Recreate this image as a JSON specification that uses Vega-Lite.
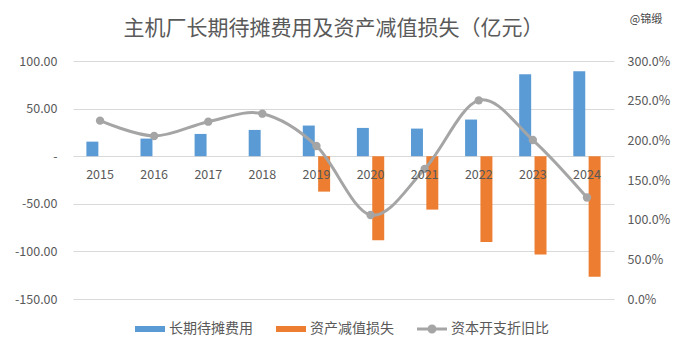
{
  "$schema": "https://vega.github.io/schema/vega-lite/v6.json",
  "width": 541,
  "height": 238,
  "autosize": {"type": "none"},
  "padding": {"left": 73, "top": 61, "right": 67, "bottom": 54},
  "background": "white",
  "title": {
    "text": "主机厂长期待摊费用及资产减值损失（亿元）",
    "fontSize": 21,
    "font": "Noto Sans CJK SC",
    "fontWeight": "normal",
    "color": "#595959",
    "anchor": "middle",
    "offset": -25,
    "dx": -10
  },
  "config": {
    "font": "Noto Sans CJK SC",
    "view": {"stroke": null},
    "axis": {"labelFont": "Noto Sans CJK SC", "labelColor": "#595959", "labelFontSize": 12.5}
  },
  "datasets": {
    "bars": [
      {"year": "2015", "series": "长期待摊费用", "value": 15.3},
      {"year": "2016", "series": "长期待摊费用", "value": 18.5},
      {"year": "2017", "series": "长期待摊费用", "value": 23.4},
      {"year": "2018", "series": "长期待摊费用", "value": 27.6},
      {"year": "2019", "series": "长期待摊费用", "value": 32.2},
      {"year": "2020", "series": "长期待摊费用", "value": 29.7},
      {"year": "2021", "series": "长期待摊费用", "value": 29.0},
      {"year": "2022", "series": "长期待摊费用", "value": 38.5},
      {"year": "2023", "series": "长期待摊费用", "value": 86.1},
      {"year": "2024", "series": "长期待摊费用", "value": 89.3},
      {"year": "2019", "series": "资产减值损失", "value": -37.2},
      {"year": "2020", "series": "资产减值损失", "value": -88.3},
      {"year": "2021", "series": "资产减值损失", "value": -56.1},
      {"year": "2022", "series": "资产减值损失", "value": -90.0},
      {"year": "2023", "series": "资产减值损失", "value": -103.3},
      {"year": "2024", "series": "资产减值损失", "value": -126.5}
    ],
    "ratio": [
      {"year": "2015", "ratio": 2.248},
      {"year": "2016", "ratio": 2.055},
      {"year": "2017", "ratio": 2.235},
      {"year": "2018", "ratio": 2.336},
      {"year": "2019", "ratio": 1.929},
      {"year": "2020", "ratio": 1.059},
      {"year": "2021", "ratio": 1.64},
      {"year": "2022", "ratio": 2.504},
      {"year": "2023", "ratio": 2.004},
      {"year": "2024", "ratio": 1.28}
    ],
    "mark": [{"t": "@锦缎"}]
  },
  "layer": [
    {
      "layer": [
        {
          "data": {"name": "bars"},
          "mark": {"type": "bar"},
          "encoding": {
            "x": {
              "field": "year",
              "type": "nominal",
              "scale": {"paddingInner": 0.495, "paddingOuter": 0.2475},
              "axis": {
                "orient": "bottom",
                "offset": -143,
                "labelAngle": 0,
                "domain": false,
                "ticks": false,
                "grid": false,
                "labelPadding": 12,
                "title": null,
                "zindex": 1
              }
            },
            "xOffset": {
              "field": "series",
              "scale": {"domain": ["长期待摊费用", "资产减值损失"], "paddingInner": 0.22, "paddingOuter": 0}
            },
            "y": {
              "field": "value",
              "type": "quantitative",
              "scale": {"domain": [-150, 100], "nice": false},
              "axis": {
                "values": [-150, -100, -50, 0, 50, 100],
                "labelExpr": "datum.value === 0 ? '-\u00a0\u00a0\u00a0' : replace(format(datum.value, '.2f'), '\u2212', '-')",
                "grid": true,
                "gridColor": "#D9D9D9",
                "domain": false,
                "ticks": false,
                "labelPadding": 16,
                "title": null
              }
            },
            "color": {
              "field": "series",
              "type": "nominal",
              "scale": {
                "domain": ["长期待摊费用", "资产减值损失", "资本开支折旧比"],
                "range": ["#5B9BD5", "#ED7D31", "#A5A5A5"]
              },
              "legend": {
                "orient": "none",
                "legendX": 62,
                "legendY": 253,
                "direction": "horizontal",
                "title": null,
                "symbolSize": 900,
                "labelFontSize": 14,
                "labelColor": "#595959",
                "labelFont": "Noto Sans CJK SC",
                "columnPadding": 23,
                "labelOffset": 4,
                "encode": {
                  "symbols": {
                    "update": {
                      "shape": {"signal": "datum.value === '资本开支折旧比' ? 'M-1,-0.1H1V0.1H-1Z M-0.3,0A0.3,0.3,0,1,1,0.3,0A0.3,0.3,0,1,1,-0.3,0Z' : 'M-1,-0.2H1V0.2H-1Z'"},
                      "fill": {"scale": "color", "field": "value"},
                      "strokeWidth": {"value": 0}
                    }
                  }
                }
              }
            }
          }
        },
        {
          "data": {"name": "mark"},
          "mark": {"type": "text", "fontSize": 11, "color": "#404040", "dx": 59, "baseline": "middle", "align": "center"},
          "encoding": {
            "x": {"datum": "2024", "type": "nominal"},
            "y": {"datum": 143, "type": "quantitative"},
            "text": {"field": "t"}
          }
        }
      ]
    },
    {
      "data": {"name": "ratio"},
      "mark": {"type": "line", "interpolate": "cardinal", "strokeWidth": 3, "point": {"filled": true, "size": 70}},
      "encoding": {
        "x": {"field": "year", "type": "nominal"},
        "y": {
          "field": "ratio",
          "type": "quantitative",
          "scale": {"domain": [0, 3], "nice": false},
          "axis": {
            "orient": "right",
            "values": [0, 0.5, 1, 1.5, 2, 2.5, 3],
            "format": ".1%",
            "grid": false,
            "domain": false,
            "ticks": false,
            "labelPadding": 13,
            "title": null
          }
        },
        "color": {"datum": "资本开支折旧比"}
      }
    }
  ],
  "resolve": {"scale": {"y": "independent"}, "axis": {"y": "independent"}}
}
